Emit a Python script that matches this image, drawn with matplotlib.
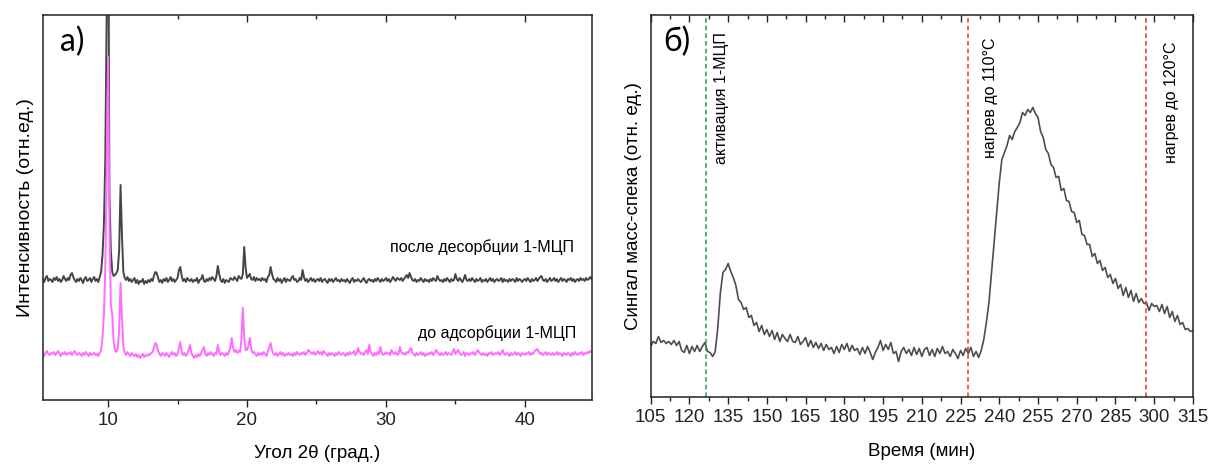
import numpy as np
import matplotlib
matplotlib.use("Agg")
import matplotlib.pyplot as plt
from matplotlib.ticker import MultipleLocator

plt.rcParams['font.family'] = ['Liberation Sans', 'DejaVu Sans']

# ---------------- XRD patterns (2θ grid 5.0 … 45.0, step 0.1°) ----------------
two_theta = np.round(np.arange(50, 451) / 10.0, 1)

xrd_after = [
    121, 119, 123, 120, 118, 122, 124, 119, 121, 120,
    118, 122, 120, 123, 119, 121, 118, 120, 124, 121,
    119, 122, 120, 125, 127, 123, 120, 118, 121, 119,
    122, 120, 117, 121, 123, 119, 120, 122, 118, 121,
    123, 119, 121, 118, 123, 128, 145, 175, 240, 380,
    560, 205, 150, 128, 124, 125, 127, 130, 150, 215,
    165, 128, 122, 120, 123, 119, 121, 118, 120, 122,
    117, 120, 116, 119, 118, 121, 116, 119, 117, 120,
    118, 121, 119, 124, 128, 127, 122, 118, 120, 117,
    121, 119, 122, 118, 120, 123, 119, 121, 118, 120,
    122, 130, 133, 124, 119, 121, 118, 122, 120, 119,
    121, 118, 120, 119, 122, 117, 120, 121, 125, 119,
    118, 121, 119, 122, 120, 123, 121, 119, 124, 134,
    126, 120, 118, 121, 117, 120, 119, 118, 122, 121,
    120, 123, 121, 119, 124, 122, 121, 126, 153, 132,
    122, 124, 126, 121, 120, 123, 119, 122, 120, 121,
    119, 122, 120, 121, 118, 123, 125, 133, 126, 121,
    120, 118, 122, 119, 121, 117, 120, 122, 118, 121,
    120, 119, 122, 124, 120, 121, 118, 119, 122, 120,
    130, 123, 119, 121, 118, 120, 122, 119, 121, 118,
    120, 121, 119, 122, 118, 120, 121, 119, 117, 121,
    119, 121, 118, 120, 122, 119, 120, 118, 121, 119,
    120, 118, 121, 119, 117, 120, 122, 118, 120, 119,
    121, 119, 118, 120, 122, 119, 117, 120, 121, 119,
    120, 118, 121, 119, 122, 120, 118, 121, 119, 120,
    122, 119, 121, 118, 120, 123, 121, 119, 122, 121,
    120, 122, 119, 121, 123, 125, 122, 127, 123, 120,
    119, 121, 118, 120, 119, 122, 120, 118, 121, 119,
    120, 118, 121, 119, 122, 120, 119, 124, 121, 119,
    120, 118, 121, 119, 122, 120, 118, 121, 119, 120,
    126, 121, 119, 122, 120, 118, 121, 125, 120, 119,
    121, 119, 122, 120, 118, 121, 119, 120, 122, 118,
    120, 119, 121, 118, 120, 122, 119, 121, 118, 120,
    121, 119, 120, 122, 118, 121, 119, 120, 118, 121,
    119, 121, 120, 118, 122, 119, 121, 120, 118, 120,
    121, 119, 122, 120, 118, 121, 119, 120, 122, 119,
    121, 123, 124, 120, 119, 121, 118, 120, 122, 119,
    120, 122, 119, 121, 118, 120, 122, 119, 121, 120,
    118, 121, 120, 122, 119, 121, 118, 120, 121, 119,
    122, 120, 121, 119, 122, 120, 121, 123, 121, 120,
    121,
]

xrd_before = [
    47, 45, 48, 46, 44, 47, 49, 46, 45, 47,
    46, 48, 45, 47, 49, 46, 44, 47, 46, 48,
    45, 47, 46, 48, 45, 47, 49, 46, 45, 47,
    46, 44, 47, 45, 48, 46, 44, 47, 45, 46,
    47, 45, 46, 44, 47, 50, 62, 85, 130, 230,
    343, 175, 95, 86, 58, 50, 48, 52, 70, 117,
    82, 54, 47, 45, 48, 46, 44, 47, 45, 44,
    46, 43, 45, 42, 44, 46, 43, 45, 44, 46,
    45, 47, 48, 52, 57, 55, 49, 46, 44, 47,
    46, 44, 47, 45, 43, 46, 48, 45, 47, 44,
    46, 52, 58, 48, 45, 47, 44, 46, 50, 55,
    47, 44, 42, 45, 43, 46, 44, 47, 50, 53,
    46, 44, 47, 45, 48, 46, 44, 47, 46, 55,
    48, 45, 47, 46, 44, 47, 45, 48, 52, 62,
    52, 48, 50, 47, 49, 48, 60, 92, 62, 50,
    50, 54, 62, 52, 47, 48, 46, 44, 47, 45,
    47, 45, 48, 46, 44, 49, 52, 57, 50, 46,
    45, 47, 44, 46, 48, 45, 47, 44, 46, 45,
    47, 45, 46, 44, 47, 45, 48, 46, 45, 47,
    46, 48, 45, 47, 50, 49, 47, 46, 48, 45,
    47, 49, 46, 48, 45, 49, 47, 46, 44, 47,
    45, 47, 46, 44, 47, 45, 48, 46, 45, 47,
    46, 44, 47, 45, 48, 46, 47, 49, 45, 47,
    52, 48, 46, 47, 45, 48, 50, 46, 55, 48,
    46, 44, 47, 45, 48, 46, 53, 47, 45, 46,
    48, 46, 47, 45, 50, 47, 46, 48, 45, 46,
    53, 48, 46, 47, 45, 48, 47, 50, 52, 47,
    46, 44, 47, 45, 46, 48, 45, 47, 44, 46,
    45, 47, 46, 48, 45, 47, 50, 48, 46, 45,
    47, 45, 46, 48, 45, 47, 46, 45, 48, 51,
    46, 48, 50, 47, 45, 46, 48, 44, 47, 46,
    45, 47, 46, 48, 45, 47, 50, 48, 46, 45,
    47, 45, 46, 44, 47, 46, 48, 45, 46, 47,
    46, 48, 45, 47, 50, 46, 45, 47, 46, 44,
    47, 45, 46, 48, 45, 47, 46, 44, 47, 46,
    45, 47, 46, 48, 45, 47, 46, 49, 50, 51,
    48, 46, 47, 45, 46, 48, 45, 47, 46, 45,
    47, 45, 46, 48, 45, 47, 46, 44, 47, 46,
    45, 47, 46, 44, 47, 45, 48, 46, 45, 47,
    46, 48, 45, 47, 46, 48, 47, 49, 48, 47,
    48,
]

label_after = "после десорбции 1-МЦП"
label_before = "до адсорбции 1-МЦП"

# ---------------- Mass-spectrometry signal (105 … 315 min, step 1 min) ----------------
time_min = np.arange(105, 316)

ms_signal = [
    51, 56, 54, 61, 55, 57, 54, 56, 53, 57,      # 105-114
    52, 56, 47, 45, 52, 44, 51, 46, 52, 46,      # 115-124
    51, 55, 46, 45, 41, 46, 70, 105, 125, 128,   # 125-134
    134, 126, 120, 112, 98, 95, 88, 90, 80, 82,  # 135-144
    72, 75, 66, 72, 63, 68, 61, 67, 58, 65,      # 145-154
    56, 63, 59, 56, 63, 56, 55, 61, 53, 56,      # 155-164
    60, 51, 57, 50, 55, 49, 54, 47, 53, 48,      # 165-174
    50, 44, 51, 45, 53, 48, 54, 46, 52, 47,      # 175-184
    49, 43, 50, 44, 51, 45, 38, 45, 50, 57,      # 185-194
    47, 53, 48, 55, 44, 46, 36, 46, 50, 44,      # 195-204
    48, 42, 50, 43, 49, 41, 48, 50, 42, 48,      # 205-214
    41, 49, 44, 51, 44, 46, 41, 48, 44, 39,      # 215-224
    47, 42, 49, 44, 50, 41, 46, 40, 47, 58,      # 225-234
    75, 95, 125, 155, 185, 215, 238, 245, 252, 262,  # 235-244
    258, 266, 270, 275, 285, 282, 288, 285, 290, 284,  # 245-254
    280, 266, 260, 248, 244, 233, 230, 220, 221, 207,  # 255-264
    209, 197, 196, 186, 185, 175, 177, 163, 162, 153,  # 265-274
    153, 141, 144, 134, 137, 127, 130, 120, 123, 114,  # 275-284
    119, 109, 113, 102, 110, 100, 107, 96, 104, 95,    # 285-294
    99, 94, 95, 87, 94, 91, 92, 86, 93, 84,            # 295-304
    91, 80, 86, 76, 82, 73, 75, 68, 69, 66,            # 305-314
    67,                                                # 315
]

event_times = [126.3, 228.0, 297.0]
event_colors = ["#1fa04a", "#ff2a2a", "#ff2a2a"]
event_labels = ["активация 1-МЦП", "нагрев до 110°С", "нагрев до 120°С"]
event_label_x = [132.6, 236.5, 306.8]
event_label_y = [0.784, 0.784, 0.773]

# ---------------- Figure ----------------
fig = plt.figure(figsize=(12.11, 4.65), dpi=100)
ax1 = fig.add_axes([0.0353, 0.1398, 0.4532, 0.8280])
ax2 = fig.add_axes([0.5373, 0.1452, 0.4478, 0.8226])

spine_col = "#222222"
for ax in (ax1, ax2):
    for sp in ax.spines.values():
        sp.set_linewidth(1.1)
        sp.set_color(spine_col)
    ax.set_yticks([])
    ax.tick_params(axis='x', which='both', top=True, bottom=True,
                   labelsize=13.5, colors=spine_col, width=1.0)
    ax.tick_params(axis='x', which='major', length=5)
    ax.tick_params(axis='x', which='minor', length=2.8)

# panel а) — XRD
ax1.plot(two_theta, xrd_after, color="#454545", lw=1.4)
ax1.plot(two_theta, xrd_before, color="#ff6cff", lw=1.4)
ax1.set_xlim(5.3, 44.8)
ax1.set_ylim(0, 385)
ax1.xaxis.set_major_locator(MultipleLocator(10))
ax1.xaxis.set_minor_locator(MultipleLocator(5))
ax1.tick_params(axis='x', which='both', direction='out')
for t in ax1.xaxis.get_major_ticks() + ax1.xaxis.get_minor_ticks():
    t.tick2line.set_marker(matplotlib.lines.TICKDOWN)
ax1.set_xlabel("Угол 2θ (град.)", fontsize=13.5, labelpad=12)
ax1.set_ylabel("Интенсивность (отн.ед.)", fontsize=14, labelpad=6)
ax1.text(43.5, 153, label_after, ha='right', va='center', fontsize=11.5)
ax1.text(43.7, 67, label_before, ha='right', va='center', fontsize=11.5)
ax1.text(0.031, 0.93, "а)", transform=ax1.transAxes, ha='left', va='center',
         fontsize=23, family=['Lato', 'DejaVu Sans'])

# panel б) — mass spectrometry
ax2.plot(time_min, ms_signal, color="#4d4d4d", lw=1.2)
ax2.set_xlim(105, 315)
ax2.set_ylim(0, 382.5)
ax2.xaxis.set_major_locator(MultipleLocator(15))
ax2.xaxis.set_minor_locator(MultipleLocator(7.5))
ax2.tick_params(axis='x', which='both', direction='out')
for t in ax2.xaxis.get_major_ticks() + ax2.xaxis.get_minor_ticks():
    t.tick2line.set_marker(matplotlib.lines.TICKDOWN)
for xt, c, lab, lx, ly in zip(event_times, event_colors, event_labels,
                              event_label_x, event_label_y):
    ax2.axvline(xt, color=c, lw=1.1, ls=(0, (3, 2)))
    ax2.text(lx, ly, lab, transform=ax2.get_xaxis_transform(), rotation=90,
             ha='center', va='center', fontsize=11.5)
ax2.set_xlabel("Время (мин)", fontsize=13.5, labelpad=12)
ax2.set_ylabel("Сингал масс-спека (отн. ед.)", fontsize=13.5, labelpad=6)
ax2.text(0.023, 0.93, "б)", transform=ax2.transAxes, ha='left', va='center',
         fontsize=23, family=['Lato', 'DejaVu Sans'])

fig.savefig("out.png", dpi=100)
